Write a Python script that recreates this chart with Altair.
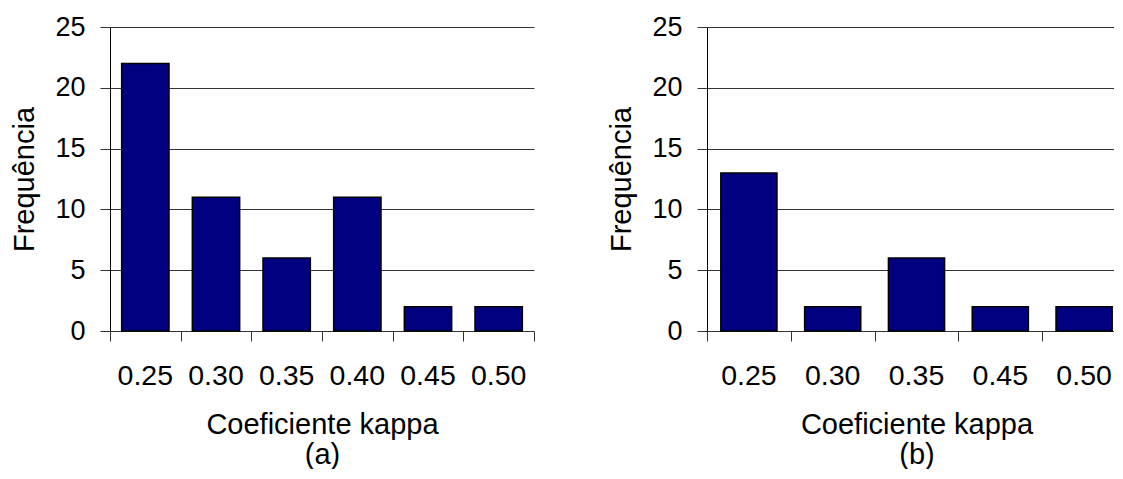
import altair as alt
import pandas as pd

# ---- data ----
cats_a = ["0.25", "0.30", "0.35", "0.40", "0.45", "0.50"]
freq_a = [22, 11, 6, 11, 2, 2]
cats_b = ["0.25", "0.30", "0.35", "0.45", "0.50"]
freq_b = [13, 2, 6, 2, 2]
y_ticks = [0, 5, 10, 15, 20, 25]
x_title = "Coeficiente kappa"
y_title = "Frequência"
label_a = "(a)"
label_b = "(b)"

FONT = "Liberation Sans"
BAR = "#000080"
GRID = "#333333"
H = 304


def panel(cats, freq, tick_cats, width, x_extent, sub):
    df = pd.DataFrame({"k": cats, "f": freq})
    xs = alt.Scale(domain=cats, range=[0, x_extent], paddingInner=0, paddingOuter=0)
    y = alt.Y(
        "f:Q",
        scale=alt.Scale(domain=[0, 25], nice=False),
        axis=alt.Axis(
            values=y_ticks, grid=True, gridColor=GRID, gridWidth=1,
            domain=True, domainColor="black", domainWidth=1,
            tickColor=GRID, tickSize=10, labelPadding=15, labelFontSize=27,
            title=y_title, titleFontSize=29, titleFontWeight="normal",
            titleX=-77, titleY=H / 2, titleAngle=270, titleAlign="center",
            titleBaseline="alphabetic",
        ),
    )
    bars = alt.Chart(df).mark_bar(
        color=BAR, stroke="black", strokeWidth=1.5,
        width=alt.RelativeBandSize(0.67),
    ).encode(
        x=alt.X(
            "k:N", sort=cats, scale=xs,
            axis=alt.Axis(
                orient="bottom", ticks=False, tickSize=0, domain=False,
                labelAngle=0, labelFontSize=28.5, labelPadding=30,
                title=[x_title, sub], titleFontSize=29, titleFontWeight="normal",
                titleY=102, titleBaseline="alphabetic", titleLineHeight=30,
            ),
        ),
        y=y,
    )
    ticks = alt.Chart(df).mark_bar(opacity=0, width=alt.RelativeBandSize(0.67)).encode(
        x=alt.X(
            "k:N", sort=cats, scale=xs,
            axis=alt.Axis(
                orient="bottom", values=tick_cats, tickBand="extent",
                labels=False, domain=False, tickSize=10, tickColor=GRID,
                tickWidth=1, title=None,
            ),
        ),
        y=y,
    )
    return alt.layer(bars, ticks).resolve_axis(x="independent").properties(
        width=width, height=H
    )


left = panel(cats_a, freq_a, cats_a, 424, 424, label_a)
# the reference cuts the right panel at the picture's edge
right = panel(cats_b, freq_b, cats_b[:4], 407, 419, label_b)

chart = alt.hconcat(left, right, spacing=72).properties(
    padding={"left": 2, "top": 5, "right": -12, "bottom": 0}
).configure(font=FONT).configure_view(stroke=None).configure_axis(
    labelColor="black", titleColor="black", labelFont=FONT, titleFont=FONT
)

chart.save("out.html", embed_options={"renderer": "svg", "actions": False})
